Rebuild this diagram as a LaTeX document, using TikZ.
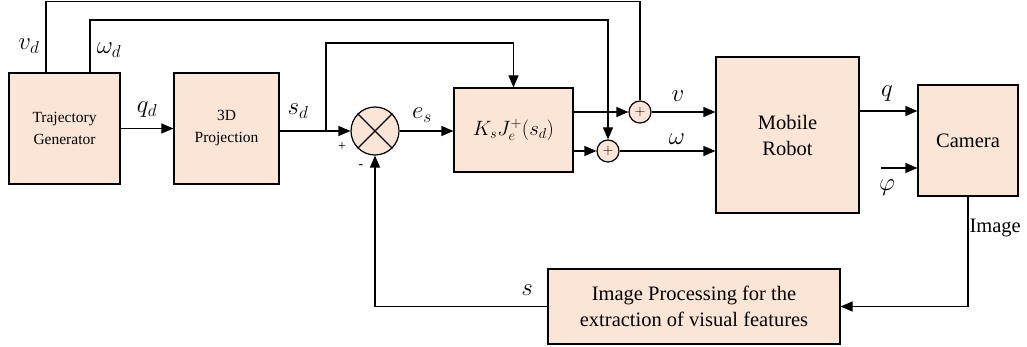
\documentclass[tikz,border=0pt]{standalone}
\usepackage{fontspec}
\setmainfont{Liberation Serif}
\usetikzlibrary{arrows.meta}
\definecolor{blockfill}{HTML}{FBE5D6}
\newcommand{\bigtxt}{\fontsize{20.5}{26}\selectfont}
\newcommand{\smalltxt}{\fontsize{15.5}{22}\selectfont}

\begin{document}
\begin{tikzpicture}[>={Triangle[length=12pt,width=10pt]}, x=1pt, y=-1pt, line width=1.2pt,
  block/.style={draw, fill=blockfill, align=center, inner sep=0pt},
  junction/.style={draw, fill=blockfill, circle, inner sep=0pt, minimum size=22pt, font=\fontsize{14}{14}\selectfont},
  lbl/.style={font=\fontsize{23}{26}\selectfont, inner sep=1pt}]
  \useasboundingbox (0,0) rectangle (1027,347);
  % blocks of the loop
  \node[block, minimum width=111pt, minimum height=111pt, font=\smalltxt] (traj) at (64.5,128.5) {Trajectory\\Generator};
  \node[block, minimum width=105pt, minimum height=111pt, font=\smalltxt] (proj) at (226.5,128.5) {3D\\Projection};
  \node[junction, minimum size=48pt] (sum) at (375,131) {};
  \draw (sum.north west) -- (sum.south east) (sum.north east) -- (sum.south west);
  \node[block, minimum width=119pt, minimum height=84pt, font=\bigtxt] (ctrl) at (513.5,130) {$K_sJ_e^+(s_d)$};
  \node[junction] (sv) at (640,112) {$+$};
  \node[junction] (sw) at (608,151) {$+$};
  \node[block, minimum width=143pt, minimum height=156pt, font=\bigtxt] (robot) at (787.5,135) {Mobile\\Robot};
  \node[block, minimum width=100pt, minimum height=111pt, font=\bigtxt] (cam) at (968,140.5) {Camera};
  \node[block, minimum width=292pt, minimum height=75pt, font=\bigtxt] (improc) at (694,306.5) {Image Processing for the\\extraction of visual features};
  % feed-forward wires over the top
  \coordinate (vtop) at (46,1.5);
  \coordinate (wtop) at (90,20);
  \coordinate (stop) at (326,43);
  \draw (traj.north -| vtop) -- (vtop) -| (sv.north);
  \draw[->] (traj.north -| wtop) -- (wtop) -| (sw.north);
  \draw[->] (stop |- sum) -- (stop) -| (ctrl.north);
  \node[lbl] (vdlbl) at (29,46) {$v_d$};
  \node[lbl] (wdlbl) at (109,50) {$\omega_d$};
  % forward path
  \draw[->] (traj.east) -- (proj.west);
  \draw[->] (proj.east |- sum) -- (sum.west);
  \draw[->] (sum.east) -- (ctrl.west |- sum);
  \draw[->] (ctrl.east |- sv) -- (sv.west);
  \draw[->] (ctrl.east |- sw) -- (sw.west);
  \draw[->] (sv.east) -- (robot.west |- sv);
  \draw[->] (sw.east) -- (robot.west |- sw);
  \coordinate (qrow) at (0,111);
  \coordinate (phiin) at (881,168);
  \draw[->] (robot.east |- qrow) -- (cam.west |- qrow);
  \draw[->] (phiin) -- (cam.west |- phiin);
  \node[lbl] (qdlbl) at (147,110) {$q_d$};
  \node[lbl] (sdlbl) at (298,111) {$s_d$};
  \node[lbl] (eslbl) at (422,115) {$e_s$};
  \node[lbl] (vlbl) at (678,96) {$v$};
  \node[lbl] (wlbl) at (677,139) {$\omega$};
  \node[lbl] (qlbl) at (887,94) {$q$};
  \node[lbl] (philbl) at (887,188) {$\varphi$};
  \node[font=\fontsize{14}{14}\selectfont] (plus) at (342,147) {+};
  \node[font=\fontsize{14}{14}\selectfont] (minus) at (361,167) {-};
  % image feedback
  \draw[->] (cam.south) |- (improc.east);
  \draw[->] (improc.west) -| (sum.south);
  \node[font=\bigtxt, anchor=west, inner sep=1pt] (imglbl) at (968,228) {Image};
  \node[lbl] (slbl) at (527,290) {$s$};
\end{tikzpicture}
\end{document}
